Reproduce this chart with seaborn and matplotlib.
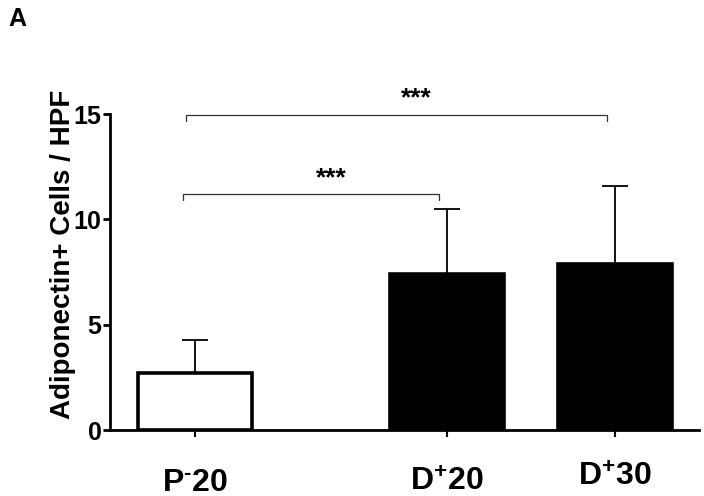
import numpy as np
import pandas as pd
import seaborn as sns
import matplotlib
matplotlib.use("Agg")
import matplotlib.pyplot as plt
import matplotlib.transforms as mtransforms

groups = ["P-20", "D+20", "D+30"]
tick_labels = [r"P$^{\text{-}}$20", r"D$^{+}$20", r"D$^{+}$30"]
positions = [0.0, 1.5, 2.5]
means = [2.72, 7.40, 7.88]
errors = [1.57, 3.08, 3.70]
colors = {"P-20": "white", "D+20": "black", "D+30": "black"}

sns.set_style("ticks")
plt.rcParams["font.family"] = ["Liberation Sans", "DejaVu Sans"]
plt.rcParams["font.weight"] = "bold"
plt.rcParams["text.color"] = "black"
plt.rcParams["axes.labelcolor"] = "black"
plt.rcParams["xtick.color"] = "black"
plt.rcParams["ytick.color"] = "black"
plt.rcParams["axes.edgecolor"] = "black"
plt.rcParams["mathtext.fontset"] = "custom"
plt.rcParams["mathtext.rm"] = "Liberation Sans:bold"
plt.rcParams["mathtext.bf"] = "Liberation Sans:bold"
plt.rcParams["mathtext.default"] = "bf"

data = pd.DataFrame({"pos": positions, "mean": means, "group": groups})

fig = plt.figure(figsize=(7.04, 4.96), dpi=100)
ax = fig.add_axes([0.156, 0.133, 0.837, 0.637])

sns.barplot(data=data, x="pos", y="mean", hue="group", palette=colors,
            native_scale=True, width=0.68, edgecolor="black", linewidth=2.6,
            legend=False, ax=ax)

ax.errorbar(positions, means, yerr=[np.zeros(len(errors)), errors], fmt="none",
            ecolor="black", elinewidth=1.3, capsize=9.5, capthick=1.3, zorder=1)

ax.set_xlim(-0.506, 3.0)
ax.set_ylim(0, 15)
ax.set_yticks([0, 5, 10, 15])
ax.set_xticks(positions)
ax.set_xticklabels(tick_labels, fontsize=23, fontweight="bold")
ax.tick_params(axis="x", pad=22, length=5, width=1.5)
ax.tick_params(axis="y", labelsize=18, length=5, width=2, pad=1)
for lab in ax.get_yticklabels():
    lab.set_fontweight("bold")
# the D+30 label sits a little higher in the original
lab = ax.get_xticklabels()[2]
lab.set_transform(lab.get_transform() +
                  mtransforms.ScaledTranslation(0, 5 / 100, fig.dpi_scale_trans))
ax.set_xlabel("")
ax.set_ylabel("Adiponectin+ Cells / HPF", fontsize=20, fontweight="bold")
ax.yaxis.set_label_coords(-0.057, 0.557)
sns.despine(ax=ax)
for s in ["left", "bottom"]:
    ax.spines[s].set_linewidth(2)

# significance brackets
def bracket(x1, x2, y, text, ty):
    ax.plot([x1, x1, x2, x2], [y - 0.3, y, y, y - 0.3], color="#333333",
            lw=0.9, clip_on=False)
    ax.text((x1 + x2) / 2 + 0.12, ty, text, ha="center", va="center",
            fontsize=19, fontweight="bold")

bracket(-0.07, 1.452, 11.2, "***", 11.95)
bracket(-0.054, 2.452, 14.95, "***", 15.75)

fig.text(0.012, 0.985, "A", fontsize=18, fontweight="bold", va="top", ha="left")

fig.savefig("out.png", dpi=100)
